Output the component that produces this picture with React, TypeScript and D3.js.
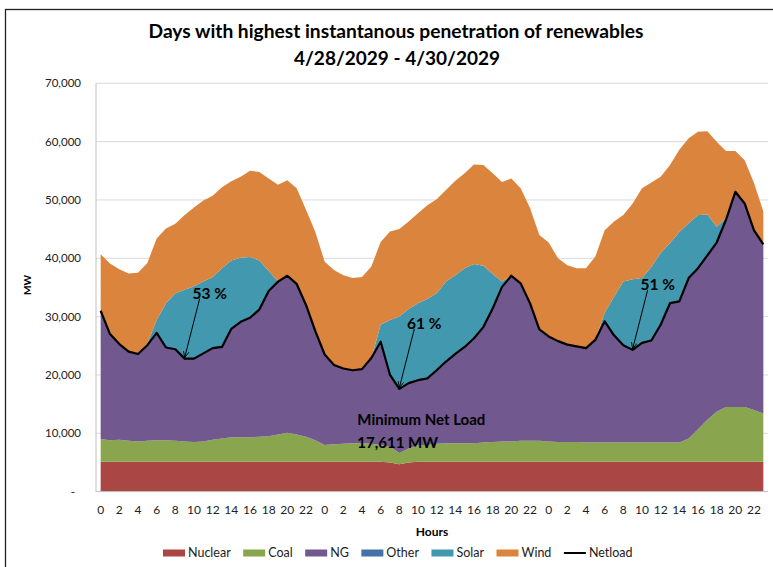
import React, { useRef, useEffect } from "react";
import * as d3 from "d3";

const days = ["4/28/2029", "4/29/2029", "4/30/2029"];
const hoursOfDay = [0, 1, 2, 3, 4, 5, 6, 7, 8, 9, 10, 11, 12, 13, 14, 15, 16, 17, 18, 19, 20, 21, 22, 23];

// MW per hour, three days back to back
const nuclear = [
  5100, 5100, 5100, 5100, 5100, 5100, 5100, 5100, 5100, 5100, 5100, 5100, 5100, 5100, 5100, 5100, 5100, 5100, 5100, 5100, 5100, 5100, 5100, 5100,
  5100, 5100, 5100, 5100, 5100, 5100, 5100, 5000, 4700, 5000, 5100, 5100, 5100, 5100, 5100, 5100, 5100, 5100, 5100, 5100, 5100, 5100, 5100, 5100,
  5100, 5100, 5100, 5100, 5100, 5100, 5100, 5100, 5100, 5100, 5100, 5100, 5100, 5100, 5100, 5100, 5100, 5100, 5100, 5100, 5100, 5100, 5100, 5100,
];
const coal = [
  3900, 3700, 3800, 3600, 3500, 3600, 3700, 3700, 3600, 3500, 3400, 3500, 3800, 4000, 4200, 4200, 4200, 4300, 4400, 4700, 5000, 4700, 4300, 3700,
  2900, 3000, 3100, 3200, 3200, 3100, 2900, 2700, 1900, 2400, 2900, 2900, 3100, 3200, 3200, 3200, 3200, 3300, 3400, 3500, 3500, 3600, 3600, 3600,
  3500, 3400, 3400, 3400, 3300, 3300, 3300, 3300, 3300, 3300, 3300, 3300, 3300, 3300, 3300, 4000, 5600, 7200, 8600, 9400, 9400, 9400, 8900, 8300,
];
const ng = [
  22000, 18200, 16400, 15300, 15000, 16400, 18400, 15900, 15700, 14200, 14300, 15100, 15700, 15700, 18600, 19800, 20500, 21800, 24900, 26200, 26900, 25800, 22600, 18700,
  15500, 13600, 12900, 12500, 12700, 14700, 17700, 12300, 11011, 11200, 11100, 11400, 12600, 14000, 15300, 16500, 18000, 19800, 22900, 26500, 28400, 27000, 23600, 19100,
  18000, 17300, 16700, 16400, 16200, 17600, 20800, 18400, 16700, 15900, 17100, 17500, 20200, 23900, 24200, 27500, 27600, 28200, 29000, 32100, 36900, 34900, 30800, 29000,
];
const other = [
  0, 0, 0, 0, 0, 0, 0, 0, 0, 0, 0, 0, 0, 0, 0, 0, 0, 0, 0, 0, 0, 0, 0, 0,
  0, 0, 0, 0, 0, 0, 0, 0, 0, 0, 0, 0, 0, 0, 0, 0, 0, 0, 0, 0, 0, 0, 0, 0,
  0, 0, 0, 0, 0, 0, 0, 0, 0, 0, 0, 0, 0, 0, 0, 0, 0, 0, 0, 0, 0, 0, 0, 0,
];
const solar = [
  0, 0, 0, 0, 0, 300, 2200, 7600, 9600, 11800, 12400, 12300, 12200, 13500, 11700, 11000, 10400, 8400, 3400, 0, 0, 0, 0, 0,
  0, 0, 0, 0, 0, 0, 2900, 9400, 12400, 12700, 13200, 13600, 13200, 13700, 13500, 13500, 12700, 10500, 5900, 900, 0, 0, 0, 0,
  0, 0, 0, 0, 0, 0, 1400, 6600, 10900, 12100, 11100, 12600, 12300, 10300, 11900, 9400, 9100, 7000, 2700, 300, 0, 0, 0, 0,
];
const wind = [
  9700, 12100, 12800, 13400, 13900, 13800, 14000, 12800, 11900, 12800, 13500, 13900, 13900, 13900, 13600, 13900, 14800, 15200, 15900, 16600, 16400, 16400, 16300, 17000,
  15900, 16300, 16000, 15800, 15800, 15700, 14200, 15200, 14989, 15000, 15400, 16100, 16100, 15700, 16200, 16300, 17100, 17300, 17300, 17100, 16700, 16300, 16300, 16200,
  16100, 14200, 13600, 13400, 13700, 14300, 14200, 12900, 11400, 13000, 15400, 14500, 13100, 13400, 14100, 14600, 14300, 14300, 14600, 11500, 7000, 7400, 8100, 5600,
];
const netload = [
  31000, 27000, 25300, 24000, 23600, 25100, 27200, 24700, 24400, 22800, 22800, 23700, 24600, 24800, 27900, 29100, 29800, 31200, 34400, 36000, 37000, 35600, 32000, 27500,
  23500, 21700, 21100, 20800, 21000, 22900, 25700, 20000, 17611, 18600, 19100, 19400, 20800, 22300, 23600, 24800, 26300, 28200, 31400, 35100, 37000, 35700, 32300, 27800,
  26600, 25800, 25200, 24900, 24600, 26000, 29200, 26800, 25100, 24300, 25500, 25900, 28600, 32300, 32600, 36600, 38300, 40500, 42700, 46600, 51400, 49400, 44800, 42400,
];

const yTicks = [0, 10000, 20000, 30000, 40000, 50000, 60000, 70000];
const seriesNames = ["Nuclear", "Coal", "NG", "Other", "Solar", "Wind"];
const seriesValues = [nuclear, coal, ng, other, solar, wind];
const seriesColors = ["#AA4643", "#89A54E", "#71588F", "#4572A7", "#4198AF", "#DB843D"];

// renewable share callouts: hour index, label
const callouts = [
  { idx: 9, label: "53 %" },
  { idx: 32, label: "61 %" },
  { idx: 57, label: "51 %" },
];

const FONT = "Lato, 'Open Sans', sans-serif";

export default function App() {
  const ref = useRef<SVGSVGElement>(null);

  useEffect(() => {
    const svg = d3.select(ref.current);
    svg.selectAll("*").remove();

    const width = 773;
    const height = 567;
    const plot = { left: 96, right: 768, top: 83.3, bottom: 491.6 };

    const categories = days.flatMap(d => hoursOfDay.map(h => `${d} ${h}`));
    const table = categories.map((c, i) => {
      const row: any = { cat: c, hour: hoursOfDay[i % 24] };
      seriesNames.forEach((s, k) => { row[s] = seriesValues[k][i]; });
      return row;
    });

    const x = d3.scaleBand<string>().domain(categories).range([plot.left, plot.right]);
    const cx = (c: string) => (x(c) as number) + x.bandwidth() / 2;
    const y = d3.scaleLinear().domain([0, 70000]).range([plot.bottom, plot.top]);
    const color = d3.scaleOrdinal<string, string>().domain(seriesNames).range(seriesColors);

    svg.append("rect").attr("width", width).attr("height", height).attr("fill", "#fff");

    // chart frame
    svg.append("rect")
      .attr("x", 5.5).attr("y", 9.5)
      .attr("width", 900).attr("height", 700)
      .attr("fill", "none").attr("stroke", "#222").attr("stroke-width", 1.3);

    // title
    svg.append("text")
      .attr("x", 396).attr("y", 38)
      .attr("text-anchor", "middle")
      .attr("font-family", FONT).attr("font-weight", "bold").attr("font-size", 19.2)
      .text("Days with highest instantanous penetration of renewables");
    svg.append("text")
      .attr("x", 397).attr("y", 65)
      .attr("text-anchor", "middle")
      .attr("font-family", FONT).attr("font-weight", "bold").attr("font-size", 19)
      .text("4/28/2029 - 4/30/2029");

    // gridlines
    svg.append("g")
      .selectAll("line")
      .data(yTicks.filter(t => t > 0))
      .enter()
      .append("line")
      .attr("x1", plot.left).attr("x2", plot.right)
      .attr("y1", d => y(d)).attr("y2", d => y(d))
      .attr("stroke", "#d9d9d9").attr("stroke-width", 1);

    // stacked areas
    const series = d3.stack().keys(seriesNames)(table);
    const area = d3.area<any>()
      .x(d => cx(d.data.cat))
      .y0(d => y(d[0]))
      .y1(d => y(d[1]));

    svg.append("g")
      .selectAll("path")
      .data(series)
      .enter()
      .append("path")
      .attr("fill", d => color(d.key))
      .attr("d", area as any);

    // axes lines
    svg.append("line")
      .attr("x1", plot.left).attr("x2", plot.left)
      .attr("y1", plot.top).attr("y2", plot.bottom)
      .attr("stroke", "#bfbfbf");
    svg.append("line")
      .attr("x1", plot.left).attr("x2", plot.right)
      .attr("y1", plot.bottom).attr("y2", plot.bottom)
      .attr("stroke", "#bfbfbf");

    // netload line
    const line = d3.line<number>()
      .x((_, i) => cx(categories[i]))
      .y(d => y(d));
    svg.append("path")
      .datum(netload)
      .attr("fill", "none")
      .attr("stroke", "#000")
      .attr("stroke-width", 2.2)
      .attr("stroke-linejoin", "round")
      .attr("d", line);

    // y tick labels
    svg.append("g")
      .selectAll("text")
      .data(yTicks)
      .enter()
      .append("text")
      .attr("x", d => (d === 0 ? 75 : 81))
      .attr("y", d => y(d))
      .attr("dy", "0.35em")
      .attr("text-anchor", "end")
      .attr("font-family", FONT).attr("font-size", 11.5).attr("fill", "#222")
      .text(d => (d === 0 ? "-" : d3.format(",")(d)));

    svg.append("text")
      .attr("transform", "translate(31,285) rotate(-90)")
      .attr("text-anchor", "middle")
      .attr("font-family", FONT).attr("font-weight", "bold").attr("font-size", 10)
      .text("MW");

    // x tick labels (every other hour)
    svg.append("g")
      .selectAll("text")
      .data(table.filter(d => d.hour % 2 === 0))
      .enter()
      .append("text")
      .attr("x", d => cx(d.cat))
      .attr("y", 514)
      .attr("text-anchor", "middle")
      .attr("font-family", FONT).attr("font-size", 12).attr("fill", "#222")
      .text(d => d.hour);

    svg.append("text")
      .attr("x", 432).attr("y", 536)
      .attr("text-anchor", "middle")
      .attr("font-family", FONT).attr("font-weight", "bold").attr("font-size", 12)
      .text("Hours");

    // callouts
    const defs = svg.append("defs");
    defs.append("marker")
      .attr("id", "arrow")
      .attr("viewBox", "0 0 10 10")
      .attr("refX", 9).attr("refY", 5)
      .attr("markerWidth", 7).attr("markerHeight", 7)
      .attr("orient", "auto")
      .append("path")
      .attr("d", "M0,1 L9,5 L0,9")
      .attr("fill", "none").attr("stroke", "#000").attr("stroke-width", 1.2);

    callouts.forEach(c => {
      const tx = cx(categories[c.idx]);
      const ty = y(netload[c.idx]);
      svg.append("line")
        .attr("x1", tx + 15).attr("y1", ty - 60)
        .attr("x2", tx).attr("y2", ty - 1)
        .attr("stroke", "#000").attr("stroke-width", 1)
        .attr("marker-end", "url(#arrow)");
      svg.append("text")
        .attr("x", tx + 25).attr("y", ty - 60)
        .attr("text-anchor", "middle")
        .attr("font-family", FONT).attr("font-weight", "bold").attr("font-size", 15.5)
        .text(c.label);
    });

    const minIdx = d3.minIndex(netload);
    const minX = cx(categories[minIdx]);
    svg.append("text")
      .attr("x", minX - 42).attr("y", 425)
      .attr("font-family", FONT).attr("font-weight", "bold").attr("font-size", 15)
      .text("Minimum Net Load");
    svg.append("text")
      .attr("x", minX - 42).attr("y", 448)
      .attr("font-family", FONT).attr("font-weight", "bold").attr("font-size", 15)
      .text(`${d3.format(",")(netload[minIdx])} MW`);

    // legend
    const legend = svg.append("g").attr("transform", "translate(163,553)");
    let lx = 0;
    seriesNames.concat(["Netload"]).forEach((name, i) => {
      const g = legend.append("g").attr("transform", `translate(${lx},0)`);
      if (name === "Netload") {
        g.append("line")
          .attr("x1", 0).attr("x2", 22).attr("y1", 0).attr("y2", 0)
          .attr("stroke", "#000").attr("stroke-width", 2);
      } else {
        g.append("rect")
          .attr("x", 0).attr("y", -3.5)
          .attr("width", 22).attr("height", 7)
          .attr("fill", seriesColors[i]);
      }
      const t = g.append("text")
        .attr("x", 25).attr("y", 0)
        .attr("dy", "0.35em")
        .attr("font-family", FONT).attr("font-size", 12.5).attr("fill", "#222")
        .text(name);
      const w = (t.node() as SVGTextElement).getComputedTextLength();
      lx += 25 + w + 12.5;
    });
  }, []);

  return (
    <svg
      ref={ref}
      width={773}
      height={567}
      style={{ position: "absolute", left: 0, top: 0 }}
    />
  );
}
